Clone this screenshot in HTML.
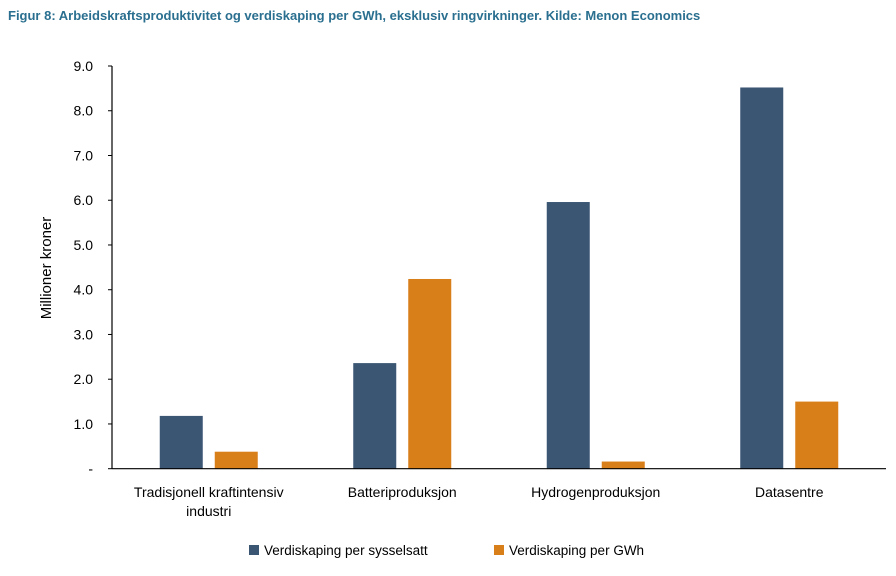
<!DOCTYPE html>
<html><head><meta charset="utf-8"><style>
body{margin:0;background:#fff;width:896px;height:571px;overflow:hidden;font-family:"Liberation Sans",sans-serif;}
</style></head><body>
<svg width="896" height="571" xmlns="http://www.w3.org/2000/svg">
<text x="8" y="20" font-size="13" font-weight="bold" fill="#2a6f8f">Figur 8: Arbeidskraftsproduktivitet og verdiskaping per GWh, eksklusiv ringvirkninger. Kilde: Menon Economics</text>
<text transform="translate(51,268) rotate(-90)" font-size="15" text-anchor="middle" fill="#000">Millioner kroner</text>
<g id="plot"></g>
<g>
<rect x="249" y="545" width="10" height="10" fill="#3a5673"/>
<text x="264" y="555" font-size="13.5">Verdiskaping per sysselsatt</text>
<rect x="494" y="545" width="10" height="10" fill="#d97f1a"/>
<text x="509" y="555" font-size="13.5">Verdiskaping per GWh</text>
</g>
</svg>
<script>
const categories=[["Tradisjonell kraftintensiv","industri"],["Batteriproduksjon"],["Hydrogenproduksjon"],["Datasentre"]];
const perSysselsatt=[1.18,2.36,5.96,8.52];
const perGWh=[0.38,4.24,0.16,1.5];
const yTicks=[0,1,2,3,4,5,6,7,8,9];
const yTickLabels=["-","1.0","2.0","3.0","4.0","5.0","6.0","7.0","8.0","9.0"];
const NS="http://www.w3.org/2000/svg";
const g=document.getElementById('plot');
const x0=112,x1=886,yTop=66,yBot=468.7,yMax=9;
const y=v=>yBot-(v/yMax)*(yBot-yTop);
const bw=(x1-x0)/categories.length;
const cx=i=>x0+bw*(i+0.5);
function mk(t,a){const e=document.createElementNS(NS,t);for(const k in a)e.setAttribute(k,a[k]);g.appendChild(e);return e;}
yTicks.forEach((v,i)=>{
 const l=mk('line',{x1:108,x2:112,y1:y(v),y2:y(v),stroke:'#000','stroke-width':1});
 
 
 const t=mk('text',{x:93,y:y(v)+5,'font-size':14,'text-anchor':'end'});
 t.textContent=yTickLabels[i];
 
 
});
categories.forEach((c,i)=>{
 const b1=mk('rect',{x:cx(i)-49,y:y(perSysselsatt[i]),width:43,height:yBot-y(perSysselsatt[i]),fill:'#3a5673'});
 
 
 const b2=mk('rect',{x:cx(i)+6,y:y(perGWh[i]),width:43,height:yBot-y(perGWh[i]),fill:'#d97f1a'});
 
 
 c.forEach((s,j)=>{
  const t=mk('text',{x:cx(i),y:497+j*19,'font-size':14,'text-anchor':'middle'});
  t.textContent=s;
  
  
 });
});
const ax=mk('line',{x1:x0,x2:x0,y1:yTop,y2:yBot,stroke:'#000','stroke-width':1.2});


const xa=mk('line',{x1:x0,x2:x1,y1:yBot,y2:yBot,stroke:'#000','stroke-width':1.2});


</script>
</body></html>
